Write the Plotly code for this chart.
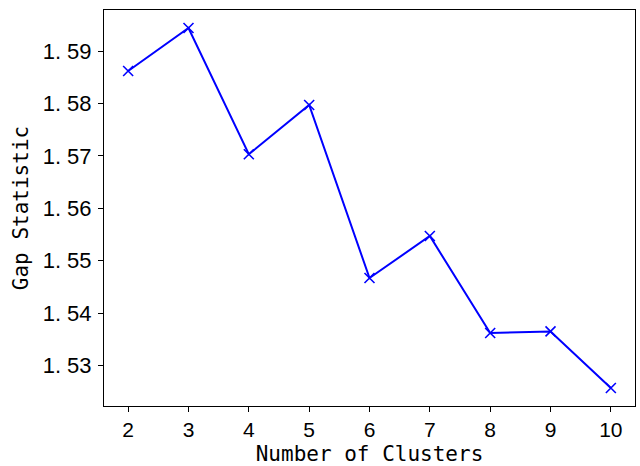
import plotly.graph_objects as go

# Gap statistic for each candidate number of clusters
clusters = [2, 3, 4, 5, 6, 7, 8, 9, 10]
gap_values = [1.5862, 1.5944, 1.5703, 1.5797, 1.5467, 1.5547, 1.5362, 1.5365, 1.5257]

y_tick_values = [1.53, 1.54, 1.55, 1.56, 1.57, 1.58, 1.59]
y_tick_labels = ["1. 53", "1. 54", "1. 55", "1. 56", "1. 57", "1. 58", "1. 59"]
x_tick_values = clusters

# 5% padding around the data, like a default autoscaled axis
x_pad = 0.05 * (max(clusters) - min(clusters))
y_pad = 0.05 * (max(gap_values) - min(gap_values))

fig = go.Figure(
    go.Scatter(
        x=clusters,
        y=gap_values,
        mode="lines+markers",
        line=dict(color="#0000ff", width=2),
        marker=dict(symbol="x-thin", size=10, line=dict(color="#0000ff", width=1.6)),
        showlegend=False,
    )
)

x_tick_font = dict(family="Liberation Sans, Arial, sans-serif", size=21, color="#000000")
y_tick_font = dict(family="Liberation Sans, Arial, sans-serif", size=22, color="#000000")
title_font = dict(family="DejaVu Sans Mono, monospace", size=21, color="#000000")

fig.update_layout(
    width=640,
    height=466,
    margin=dict(l=104, r=4, t=10, b=56),
    paper_bgcolor="white",
    plot_bgcolor="white",
)

fig.update_xaxes(
    range=[min(clusters) - x_pad, max(clusters) + x_pad],
    tickmode="array",
    tickvals=x_tick_values,
    ticktext=[str(v) for v in x_tick_values],
    ticks="outside",
    ticklen=5,
    tickwidth=1,
    tickcolor="#000000",
    showline=True,
    linecolor="#000000",
    linewidth=1,
    mirror=True,
    showgrid=False,
    zeroline=False,
    tickfont=x_tick_font,
    ticklabelstandoff=0,
    title=dict(text="Number of Clusters", font=title_font, standoff=6),
)

fig.update_yaxes(
    range=[min(gap_values) - y_pad, max(gap_values) + y_pad],
    tickmode="array",
    tickvals=y_tick_values,
    ticktext=y_tick_labels,
    ticks="outside",
    ticklen=5,
    tickwidth=1,
    tickcolor="#000000",
    showline=True,
    linecolor="#000000",
    linewidth=1,
    mirror=True,
    showgrid=False,
    zeroline=False,
    tickfont=y_tick_font,
    ticklabelstandoff=2,
    title=dict(text="Gap Statistic", font=title_font, standoff=8),
)

fig.write_html("out.html")
